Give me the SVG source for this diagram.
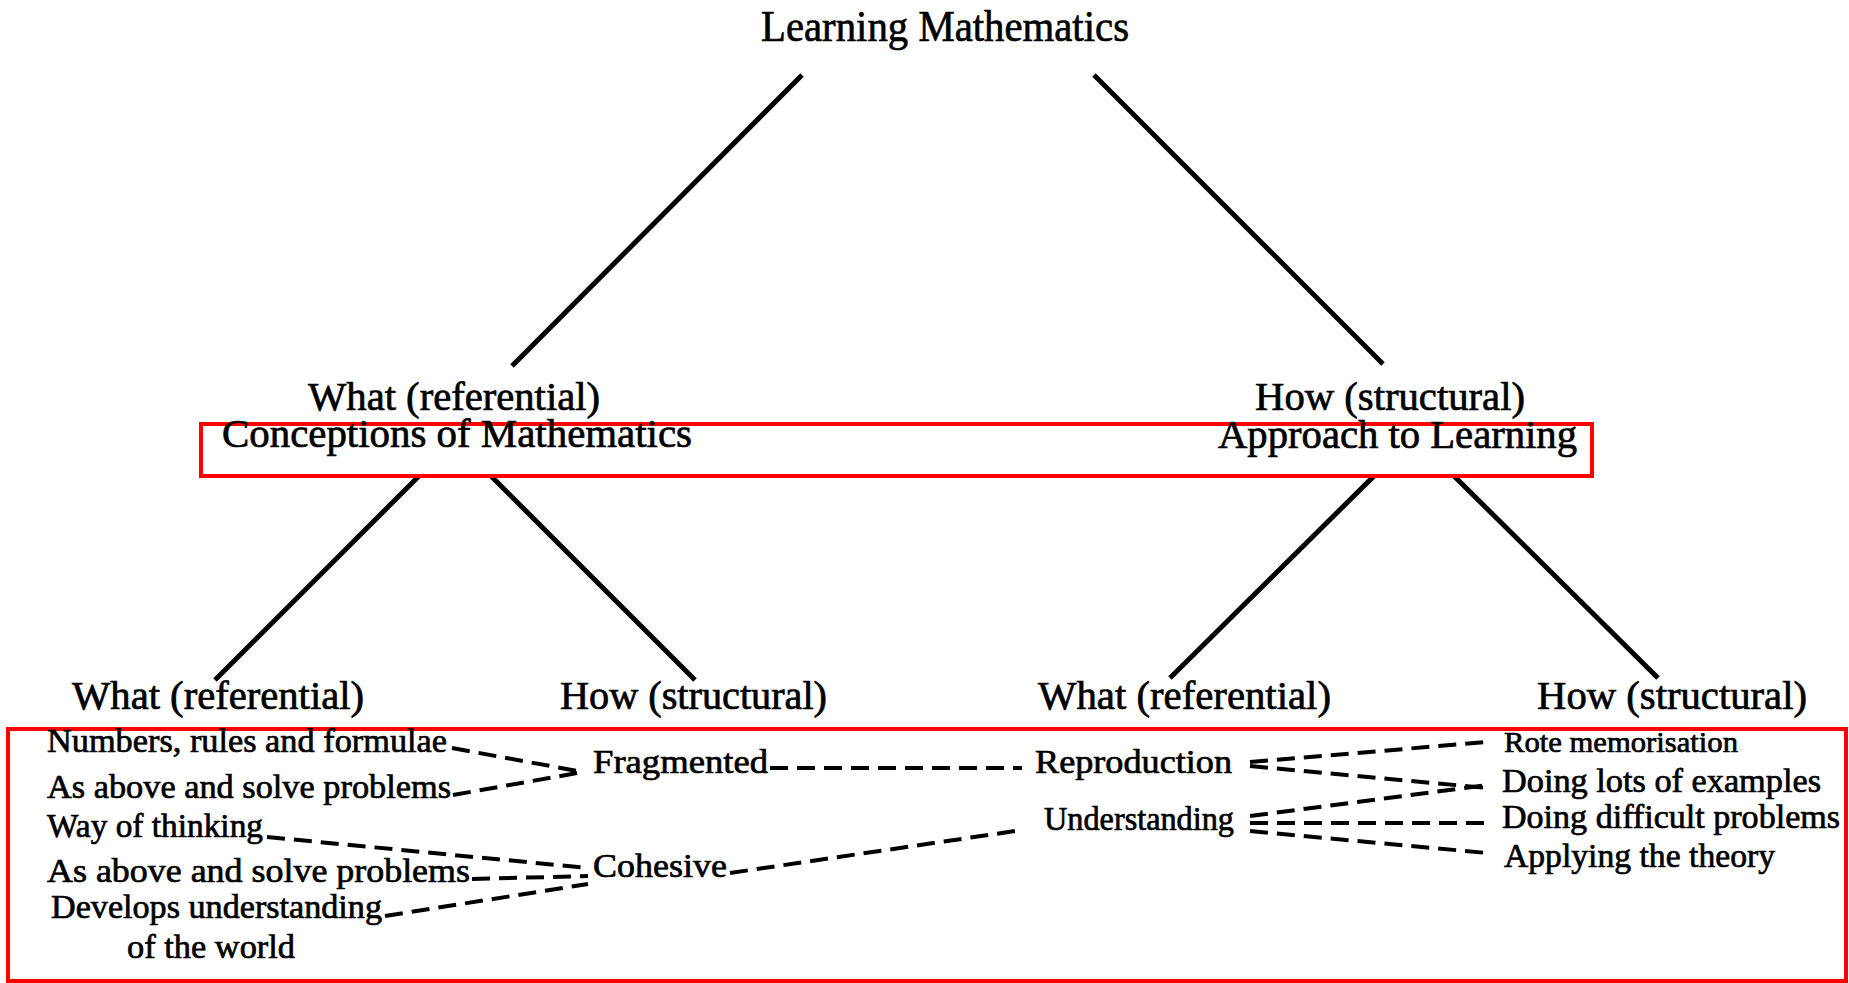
<svg xmlns="http://www.w3.org/2000/svg" width="1849" height="983" viewBox="0 0 1849 983">
<style>
text{font-family:"Liberation Serif","Times New Roman",serif;fill:#000;stroke:#000;stroke-width:0.7}
.t{font-size:44px}
.l{font-size:40px}
.s{font-size:34px}
.r{font-size:30px}
.solid{stroke:#000;stroke-width:5;fill:none;stroke-linecap:butt}
.dash{stroke:#000;stroke-width:4;fill:none;stroke-dasharray:18 9}
.hl{fill:none;stroke:#ff0000;stroke-width:4}
</style>
<rect width="1849" height="983" fill="#fff"/>
<g id="connectors">
<line class="solid" x1="802" y1="75" x2="512" y2="366"/>
<line class="solid" x1="1094" y1="75" x2="1383" y2="364"/>
<line class="solid" x1="419" y1="476" x2="215" y2="680"/>
<line class="solid" x1="491" y1="476" x2="695" y2="680"/>
<line class="solid" x1="1374" y1="476" x2="1170" y2="678"/>
<line class="solid" x1="1454" y1="476" x2="1658" y2="678"/>
<line class="dash" x1="452" y1="748" x2="583" y2="772"/>
<line class="dash" x1="453" y1="795" x2="583" y2="772"/>
<line class="dash" x1="770" y1="768" x2="1022" y2="768"/>
<line class="dash" x1="267" y1="837" x2="588" y2="868"/>
<line class="dash" x1="472" y1="879" x2="588" y2="876"/>
<line class="dash" x1="385" y1="916" x2="588" y2="884"/>
<line class="dash" x1="730" y1="873" x2="1022" y2="830"/>
<line class="dash" x1="1250" y1="762" x2="1487" y2="742"/>
<line class="dash" x1="1250" y1="766" x2="1487" y2="788"/>
<line class="dash" x1="1250" y1="816" x2="1487" y2="785"/>
<line class="dash" x1="1250" y1="823" x2="1487" y2="823"/>
<line class="dash" x1="1250" y1="831" x2="1487" y2="853"/>
</g>
<g id="highlights">
<rect class="hl" x="201" y="424" width="1391" height="52"/>
<rect class="hl" x="8" y="729" width="1838" height="252"/>
</g>
<g id="root"><text class="t" x="761" y="41" textLength="368" lengthAdjust="spacingAndGlyphs">Learning Mathematics</text></g>
<g id="conceptions">
<text class="l" x="308" y="410" textLength="292" lengthAdjust="spacingAndGlyphs">What (referential)</text>
<text class="l" x="222" y="447" textLength="470" lengthAdjust="spacingAndGlyphs">Conceptions of Mathematics</text>
</g>
<g id="approach">
<text class="l" x="1255" y="410" textLength="270" lengthAdjust="spacingAndGlyphs">How (structural)</text>
<text class="l" x="1218" y="448" textLength="359" lengthAdjust="spacingAndGlyphs">Approach to Learning</text>
</g>
<g id="c-what"><text class="l" x="72" y="709" textLength="292" lengthAdjust="spacingAndGlyphs">What (referential)</text></g>
<g id="c-how"><text class="l" x="560" y="709" textLength="267" lengthAdjust="spacingAndGlyphs">How (structural)</text></g>
<g id="a-what"><text class="l" x="1038" y="709" textLength="293" lengthAdjust="spacingAndGlyphs">What (referential)</text></g>
<g id="a-how"><text class="l" x="1537" y="709" textLength="270" lengthAdjust="spacingAndGlyphs">How (structural)</text></g>
<g id="numbers"><text class="s" x="47" y="752" textLength="400" lengthAdjust="spacingAndGlyphs">Numbers, rules and formulae</text></g>
<g id="above1"><text class="s" x="47" y="798" textLength="404" lengthAdjust="spacingAndGlyphs">As above and solve problems</text></g>
<g id="way"><text class="s" x="47" y="837" textLength="216" lengthAdjust="spacingAndGlyphs">Way of thinking</text></g>
<g id="above2"><text class="s" x="47" y="882" textLength="423" lengthAdjust="spacingAndGlyphs">As above and solve problems</text></g>
<g id="develops">
<text class="s" x="51" y="918" textLength="331" lengthAdjust="spacingAndGlyphs">Develops understanding</text>
<text class="s" x="127" y="958" textLength="168" lengthAdjust="spacingAndGlyphs">of the world</text>
</g>
<g id="fragmented"><text class="s" x="593" y="773" textLength="175" lengthAdjust="spacingAndGlyphs">Fragmented</text></g>
<g id="cohesive"><text class="s" x="593" y="877" textLength="134" lengthAdjust="spacingAndGlyphs">Cohesive</text></g>
<g id="reproduction"><text class="s" x="1035" y="773" textLength="197" lengthAdjust="spacingAndGlyphs">Reproduction</text></g>
<g id="understanding"><text class="s" x="1044" y="830" textLength="190" lengthAdjust="spacingAndGlyphs">Understanding</text></g>
<g id="rote"><text class="r" x="1504" y="752" textLength="234" lengthAdjust="spacingAndGlyphs">Rote memorisation</text></g>
<g id="lots"><text class="s" x="1502" y="792" textLength="319" lengthAdjust="spacingAndGlyphs">Doing lots of examples</text></g>
<g id="difficult"><text class="s" x="1502" y="828" textLength="338" lengthAdjust="spacingAndGlyphs">Doing difficult problems</text></g>
<g id="applying"><text class="s" x="1504" y="867" textLength="271" lengthAdjust="spacingAndGlyphs">Applying the theory</text></g>
</svg>
